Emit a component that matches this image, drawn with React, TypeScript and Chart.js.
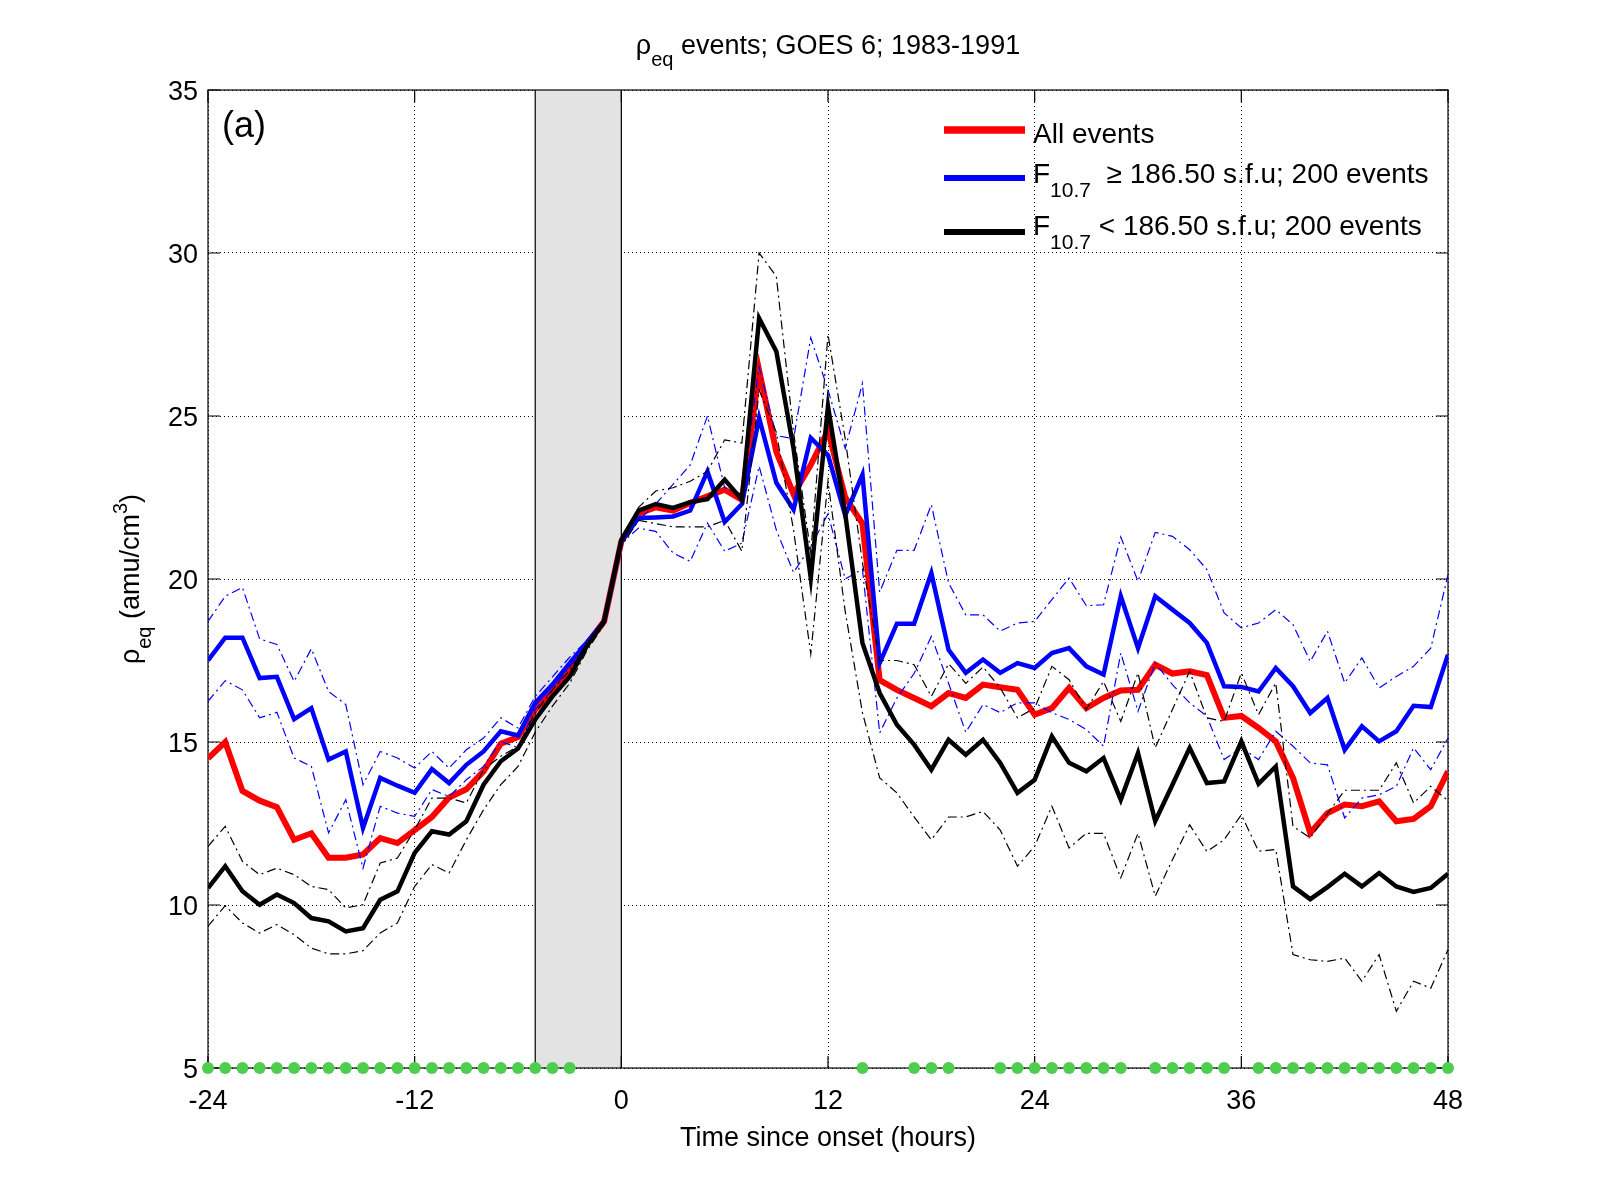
import { useEffect, useRef } from "react";
import { Chart, registerables } from "chart.js";

Chart.register(...registerables);

// hours relative to onset
const hours = [
  -24, -23, -22, -21, -20, -19, -18, -17, -16, -15, -14, -13, -12, -11, -10, -9, -8, -7, -6, -5, -4, -3, -2, -1,
  0, 1, 2, 3, 4, 5, 6, 7, 8, 9, 10, 11, 12, 13, 14, 15, 16, 17, 18, 19, 20, 21, 22, 23,
  24, 25, 26, 27, 28, 29, 30, 31, 32, 33, 34, 35, 36, 37, 38, 39, 40, 41, 42, 43, 44, 45, 46, 47, 48,
];

// all events (red)
const allEvents = [
  14.5, 15.0, 13.5, 13.2, 13.0, 12.0, 12.2, 11.45, 11.45, 11.55, 12.05, 11.9, 12.3, 12.7, 13.3, 13.55, 14.1, 14.95, 15.15, 16.0, 16.55, 17.2, 18.0, 18.7,
  21.15, 22.0, 22.2, 22.1, 22.33, 22.54, 22.74, 22.43, 26.4, 23.9, 22.6, 23.5, 24.55, 22.5, 21.7, 16.9, 16.6, 16.35, 16.1, 16.5, 16.35, 16.76, 16.68, 16.6,
  15.84, 16.04, 16.66, 16.04, 16.35, 16.58, 16.6, 17.37, 17.1, 17.17, 17.05, 15.74, 15.8, 15.43, 15.02, 13.9, 12.21, 12.82, 13.08, 13.03, 13.18, 12.57, 12.64, 13.03, 14.1,
];

// F10.7 >= 186.50 (blue) and its dash-dot envelope
const highF107 = [
  17.5, 18.2, 18.2, 16.96, 17.0, 15.7, 16.04, 14.46, 14.71, 12.36, 13.9, 13.66, 13.44, 14.17, 13.74, 14.3, 14.71, 15.33, 15.2, 16.2, 16.76, 17.42, 18.05, 18.7,
  21.15, 21.87, 21.89, 21.92, 22.1, 23.3, 21.75, 22.3, 24.94, 22.95, 22.13, 24.33, 23.8, 21.95, 23.2, 17.42, 18.63, 18.63, 20.18, 17.83, 17.12, 17.53, 17.12, 17.42,
  17.27, 17.73, 17.88, 17.32, 17.07, 19.47, 17.88, 19.47, 19.06, 18.65, 18.04, 16.71, 16.69, 16.55, 17.27, 16.71, 15.89, 16.35, 14.76, 15.48, 15.02, 15.33, 16.11, 16.07, 17.68,
];
const highF107Upper = [
  18.7, 19.47, 19.74, 18.16, 17.99, 16.86, 17.86, 16.55, 16.15, 13.69, 14.71, 14.51, 14.2, 14.71, 14.2, 14.76, 15.12, 15.74, 15.43, 16.4, 17.0, 17.6, 18.1, 18.75,
  21.2, 21.8, 22.3, 22.9, 23.5, 25.0, 22.8, 22.6, 26.5, 24.4, 24.3, 27.4, 25.8, 24.0, 26.0, 19.6, 20.88, 20.88, 22.28, 19.88, 18.9, 18.9, 18.4, 18.65,
  18.7, 19.37, 20.03, 19.18, 19.21, 21.29, 19.93, 21.43, 21.31, 20.9, 20.29, 18.96, 18.5, 18.65, 19.06, 18.6, 17.47, 18.4, 16.81, 17.58, 16.66, 17.01, 17.32, 17.88, 20.13,
];
const highF107Lower = [
  16.25, 16.88, 16.6, 15.74, 15.91, 14.51, 14.25, 12.21, 13.23, 11.13, 13.03, 12.82, 12.72, 13.54, 13.33, 13.84, 14.25, 15.02, 14.82, 16.0, 16.6, 17.3, 18.0, 18.65,
  21.1, 21.56, 21.46, 20.8, 20.54, 21.72, 20.85, 21.1, 23.46, 21.5, 20.2, 21.0, 22.0, 20.0, 20.3, 15.28, 16.35, 17.1, 18.24, 16.8, 15.3, 16.15, 15.9, 16.2,
  16.2, 15.9, 15.69, 15.38, 14.87, 17.73, 15.94, 17.42, 16.76, 16.2, 15.79, 14.46, 14.82, 14.46, 15.33, 14.87, 14.36, 14.3, 12.67, 13.28, 13.38, 13.64, 14.82, 14.15, 15.12,
];

// F10.7 < 186.50 (black) and its dash-dot envelope
const lowF107 = [
  10.52, 11.19, 10.42, 10.01, 10.32, 10.06, 9.6, 9.5, 9.19, 9.29, 10.16, 10.42, 11.6, 12.26, 12.16, 12.57, 13.69, 14.41, 14.8, 15.69, 16.4, 17.0, 17.95, 18.7,
  21.2, 22.1, 22.3, 22.18, 22.36, 22.45, 23.05, 22.43, 28.0, 26.98, 24.0, 20.03, 25.3, 22.0, 18.04, 16.5, 15.53, 14.92, 14.15, 15.07, 14.61, 15.07, 14.36, 13.44,
  13.84, 15.17, 14.36, 14.1, 14.51, 13.23, 14.66, 12.57, 13.69, 14.82, 13.74, 13.79, 15.02, 13.72, 14.25, 10.57, 10.18, 10.55, 10.96, 10.57, 10.98, 10.57, 10.4, 10.52, 10.96,
];
const lowF107Upper = [
  11.8, 12.41, 11.34, 10.93, 11.13, 10.93, 10.57, 10.47, 9.91, 10.01, 11.29, 11.44, 12.31, 13.28, 13.28, 13.13, 14.15, 14.56, 14.87, 15.9, 16.6, 17.2, 18.0, 18.7,
  21.2, 22.2, 22.7, 22.8, 23.0, 23.3, 24.27, 24.17, 30.0, 29.28, 24.5, 20.8, 27.5, 24.3, 20.5, 17.5, 17.5, 17.37, 16.4, 17.4, 16.8, 17.3, 16.66, 15.74,
  16.04, 17.32, 16.91, 16.0, 16.86, 15.63, 17.12, 14.82, 16.0, 17.17, 15.74, 15.63, 17.12, 15.84, 16.81, 12.41, 12.06, 12.8, 13.52, 13.52, 13.52, 14.36, 13.13, 13.64, 13.2,
];
const lowF107Lower = [
  9.35, 9.98, 9.45, 9.14, 9.4, 9.09, 8.68, 8.5, 8.5, 8.6, 9.14, 9.45, 10.57, 11.24, 10.98, 12.0, 12.92, 13.69, 14.25, 15.3, 16.1, 16.8, 17.8, 18.6,
  21.0, 21.8, 21.7, 21.6, 21.6, 21.6, 21.8, 20.85, 25.8, 24.5, 21.5, 17.7, 23.0, 19.0, 15.9, 13.9, 13.44, 12.7, 12.0, 12.7, 12.7, 12.87, 12.3, 11.19,
  11.8, 13.03, 11.75, 12.2, 12.2, 10.83, 12.2, 10.27, 11.39, 12.46, 11.64, 12.0, 12.77, 11.65, 11.7, 8.48, 8.32, 8.27, 8.37, 7.66, 8.48, 6.74, 7.66, 7.45, 8.63,
];

// hours marked with green dots along the bottom axis
const flaggedHours = [
  -24, -23, -22, -21, -20, -19, -18, -17, -16, -15, -14, -13, -12, -11, -10, -9, -8, -7, -6, -5, -4, -3,
  14, 17, 18, 19, 22, 23, 24, 25, 26, 27, 28, 29, 31, 32, 33, 34, 35,
  37, 38, 39, 40, 41, 42, 43, 44, 45, 46, 47, 48,
];
const flagLevel = 5;

const onsetWindow = [-5, 0];
const xTicks = [-24, -12, 0, 12, 24, 36, 48];
const yTicks = [5, 10, 15, 20, 25, 30, 35];

const FONT = '"Liberation Sans", Arial, Helvetica, sans-serif';

type Seg = { text: string; size: number; dy?: number };

function segsWidth(ctx: CanvasRenderingContext2D, segs: Seg[]) {
  let w = 0;
  for (const s of segs) {
    ctx.font = `${s.size}px ${FONT}`;
    w += ctx.measureText(s.text).width;
  }
  return w;
}

function drawSegs(ctx: CanvasRenderingContext2D, segs: Seg[], x: number, y: number) {
  let cx = x;
  for (const s of segs) {
    ctx.font = `${s.size}px ${FONT}`;
    ctx.fillText(s.text, cx, y + (s.dy ?? 0));
    cx += ctx.measureText(s.text).width;
  }
}

const titleSegs: Seg[] = [
  { text: "ρ", size: 27 },
  { text: "eq", size: 20, dy: 12 },
  { text: " events; GOES 6; 1983-1991", size: 27 },
];

const yLabelSegs: Seg[] = [
  { text: "ρ", size: 27 },
  { text: "eq", size: 20, dy: 12 },
  { text: " (amu/cm", size: 27 },
  { text: "3", size: 20, dy: -12 },
  { text: ")", size: 27 },
];

// dataset index, line y, text baseline, text pieces
const legendRows: { ds: number; ly: number; ty: number; segs: Seg[] }[] = [
  { ds: 0, ly: 130, ty: 143, segs: [{ text: "All events", size: 28 }] },
  {
    ds: 1,
    ly: 178,
    ty: 183,
    segs: [
      { text: "F", size: 28 },
      { text: "10.7", size: 21, dy: 14 },
      { text: "  ≥ 186.50 s.f.u; 200 events", size: 28 },
    ],
  },
  {
    ds: 4,
    ly: 232,
    ty: 235,
    segs: [
      { text: "F", size: 28 },
      { text: "10.7", size: 21, dy: 14 },
      { text: " < 186.50 s.f.u; 200 events", size: 28 },
    ],
  },
];

const decorPlugin = {
  id: "decor",
  beforeDatasetsDraw(chart: any) {
    const { ctx, chartArea: a, scales } = chart;
    const x = scales.x;
    const y = scales.y;
    ctx.save();
    const x0 = x.getPixelForValue(onsetWindow[0]);
    const x1 = x.getPixelForValue(onsetWindow[1]);
    ctx.fillStyle = "#e3e3e3";
    ctx.fillRect(x0, a.top, x1 - x0, a.bottom - a.top);
    ctx.strokeStyle = "#000";
    ctx.lineWidth = 1.2;
    ctx.beginPath();
    for (const px of [x0, x1]) {
      ctx.moveTo(px, a.top);
      ctx.lineTo(px, a.bottom);
    }
    ctx.stroke();
    ctx.strokeRect(a.left, a.top, a.right - a.left, a.bottom - a.top);
    // inward tick marks on all four sides
    ctx.beginPath();
    for (const v of xTicks) {
      const px = x.getPixelForValue(v);
      ctx.moveTo(px, a.bottom);
      ctx.lineTo(px, a.bottom - 12);
      ctx.moveTo(px, a.top);
      ctx.lineTo(px, a.top + 12);
    }
    for (const v of yTicks) {
      const py = y.getPixelForValue(v);
      ctx.moveTo(a.left, py);
      ctx.lineTo(a.left + 12, py);
      ctx.moveTo(a.right, py);
      ctx.lineTo(a.right - 12, py);
    }
    ctx.stroke();
    ctx.restore();
  },
  afterDraw(chart: any) {
    const { ctx, chartArea: a } = chart;
    ctx.save();
    ctx.fillStyle = "#000";
    ctx.textBaseline = "alphabetic";
    ctx.textAlign = "left";

    // title
    const cx = (a.left + a.right) / 2;
    const tw = segsWidth(ctx, titleSegs);
    drawSegs(ctx, titleSegs, cx - tw / 2, 54);

    // y axis label
    const cy = (a.top + a.bottom) / 2;
    const yw = segsWidth(ctx, yLabelSegs);
    ctx.save();
    ctx.translate(139, cy);
    ctx.rotate(-Math.PI / 2);
    drawSegs(ctx, yLabelSegs, -yw / 2, 0);
    ctx.restore();

    // panel tag
    ctx.font = `36px ${FONT}`;
    ctx.fillText("(a)", a.left + 14, 137);

    // legend
    for (const row of legendRows) {
      const ds = chart.data.datasets[row.ds];
      ctx.strokeStyle = ds.borderColor;
      ctx.lineWidth = ds.borderWidth + 1.5;
      ctx.beginPath();
      ctx.moveTo(944, row.ly);
      ctx.lineTo(1025, row.ly);
      ctx.stroke();
      drawSegs(ctx, row.segs, 1033, row.ty);
    }
    ctx.restore();
  },
};

const pts = (vals: number[]) => hours.map((h, i) => ({ x: h, y: vals[i] }));

export default function App() {
  const canvasRef = useRef<HTMLCanvasElement>(null);

  useEffect(() => {
    document.body.style.margin = "0";
    document.body.style.overflow = "hidden";
    if (!canvasRef.current) return;

    const thin = { borderWidth: 1.2, borderDash: [9, 4, 2, 4] };
    const tickFont = { family: FONT, size: 27 };

    const chart = new Chart(canvasRef.current, {
      type: "line",
      data: {
        datasets: [
          { label: "All events", data: pts(allEvents), borderColor: "#ff0000", borderWidth: 6, order: 6 },
          { label: "F10.7 >= 186.50", data: pts(highF107), borderColor: "#0000ff", borderWidth: 4.5, order: 5 },
          { label: "high upper", data: pts(highF107Upper), borderColor: "#0000ff", ...thin, order: 4 },
          { label: "high lower", data: pts(highF107Lower), borderColor: "#0000ff", ...thin, order: 4 },
          { label: "F10.7 < 186.50", data: pts(lowF107), borderColor: "#000000", borderWidth: 4.5, order: 3 },
          { label: "low upper", data: pts(lowF107Upper), borderColor: "#000000", ...thin, order: 2 },
          { label: "low lower", data: pts(lowF107Lower), borderColor: "#000000", ...thin, order: 2 },
          {
            label: "flagged",
            data: flaggedHours.map((h) => ({ x: h, y: flagLevel })),
            showLine: false,
            pointRadius: 6,
            pointBackgroundColor: "#4fcd4f",
            pointBorderWidth: 0,
            borderColor: "#4fcd4f",
            clip: false,
            order: 0,
          } as any,
        ],
      },
      options: {
        animation: false,
        responsive: true,
        maintainAspectRatio: false,
        layout: { padding: { top: 90, right: 152, left: 0, bottom: 0 } },
        elements: {
          line: { tension: 0, fill: false },
          point: { radius: 0 },
        },
        plugins: {
          legend: { display: false },
          tooltip: { enabled: false },
          title: { display: false },
        },
        scales: {
          x: {
            type: "linear",
            min: -24,
            max: 48,
            afterBuildTicks: (s: any) => {
              s.ticks = xTicks.map((value) => ({ value }));
            },
            afterFit: (s: any) => {
              s.height = 132;
            },
            grid: { color: "#000", lineWidth: 1, drawTicks: false },
            border: { display: false, dash: [1, 3] },
            ticks: { font: tickFont, color: "#000", padding: 17, maxRotation: 0, autoSkip: false },
            title: {
              display: true,
              text: "Time since onset (hours)",
              font: { family: FONT, size: 27 },
              color: "#000",
              padding: { top: 0, bottom: 45 },
            },
          },
          y: {
            type: "linear",
            min: 5,
            max: 35,
            afterBuildTicks: (s: any) => {
              s.ticks = yTicks.map((value) => ({ value }));
            },
            afterFit: (s: any) => {
              s.width = 208;
            },
            grid: { color: "#000", lineWidth: 1, drawTicks: false },
            border: { display: false, dash: [1, 3] },
            ticks: { font: tickFont, color: "#000", padding: 10, labelOffset: 3, autoSkip: false },
          },
        },
      },
      plugins: [decorPlugin],
    });

    return () => {
      chart.destroy();
    };
  }, []);

  return (
    <div style={{ position: "relative", width: 1600, height: 1200, background: "#fff" }}>
      <canvas ref={canvasRef}></canvas>
    </div>
  );
}
